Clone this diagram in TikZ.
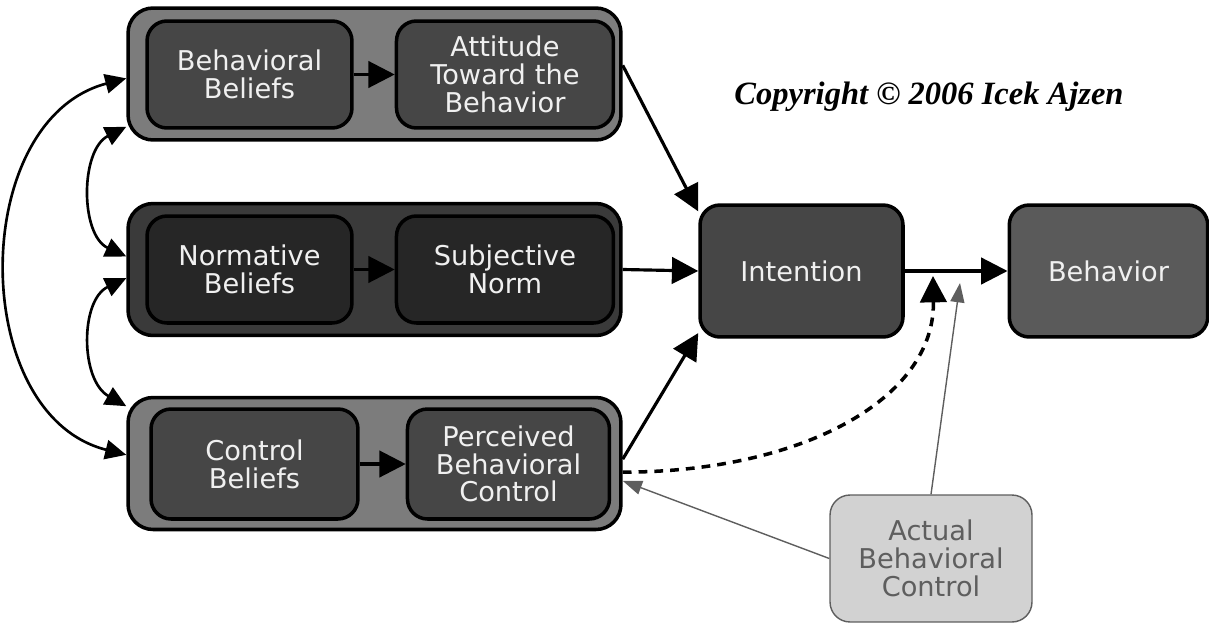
\documentclass[tikz,border=0pt]{standalone}
\usepackage{fontspec}
\setmainfont{DejaVu Sans}
\newfontfamily\copyfont{Liberation Serif}
\usetikzlibrary{shapes,arrows.meta,positioning}

\definecolor{framelight}{HTML}{7C7C7C}
\definecolor{framedark}{HTML}{3A3A3A}
\definecolor{blockmid}{HTML}{464646}
\definecolor{blockdark}{HTML}{262626}
\definecolor{blockbehav}{HTML}{5A5A5A}
\definecolor{actualfill}{HTML}{D2D2D2}
\definecolor{actualtext}{HTML}{5E5E5E}

\begin{document}
\begin{tikzpicture}[x=0.02cm, y=-0.02cm, node distance=0.82cm, auto]
    % Define block styles
    \tikzstyle{frame} = [rectangle, draw, line width=2pt, rounded corners=0.5cm, minimum width=9.86cm, minimum height=2.64cm]
    \tikzstyle{block} = [rectangle, draw, line width=2pt, fill=blockmid, text=white!94!black, inner sep=0pt, text centered, rounded corners=0.4cm, minimum height=2.14cm, font=\fontsize{15.5}{15.8}\selectfont]
    \tikzstyle{line} = [draw, line width=1.8pt, -{Triangle[length=15pt,width=15pt]}]
    \tikzstyle{curve} = [draw, line width=1.5pt, {Triangle[length=12pt,width=11pt]}-{Triangle[length=12pt,width=11pt]}]
    \tikzstyle{thinline} = [draw, actualtext, line width=0.8pt, -{Triangle[length=11pt,width=8pt]}]

    \useasboundingbox (0,0) rectangle (1209,625);

    % Nodes
    \node [frame, fill=framelight] (bgA) at (374.5,74) {};
    \node [frame, fill=framedark] (bgB) at (374.5,269.5) {};
    \node [frame, fill=framelight] (bgC) at (374.5,463.5) {};

    \node [block, text width=4.1cm] (BB) at (249.5,74.5) {Behavioral\\Beliefs};
    \node [block, text width=4.34cm, right=0.82cm of BB] (ATB) {Attitude\\Toward the\\Behavior};
    \node [block, fill=blockdark, text width=4.1cm] (NB) at (249.5,269.5) {Normative\\Beliefs};
    \node [block, fill=blockdark, text width=4.34cm, right=0.82cm of NB] (SN) {Subjective\\Norm};
    \node [block, text width=4.14cm, minimum height=2.2cm] (CB) at (254.5,464) {Control\\Beliefs};
    \node [block, text width=4.04cm, minimum height=2.2cm, right=0.92cm of CB] (PBC) {Perceived\\Behavioral\\Control};

    \node [block, text width=4.06cm, minimum height=2.64cm] (Int) at (801.5,271) {Intention};
    \node [block, fill=blockbehav, text width=3.97cm, minimum height=2.64cm] (Beh) at (1108.5,271) {Behavior};
    \node [block, draw=actualtext, line width=0.8pt, fill=actualfill, text=actualtext, text width=4.04cm, minimum height=2.54cm] (ABC) at (931,558.5) {Actual\\Behavioral\\Control};

    \node (copy) at (929,97) {\copyfont\fontsize{18.5}{20}\selectfont\bfseries\itshape Copyright \textcopyright{} 2006 Icek Ajzen};

    \coordinate (dashEnd) at (933,276);
    \coordinate (grayEnd) at (960,283);

    % Arrows
    \path [line] (BB) -- (ATB);
    \path [line] (NB) -- (SN);
    \path [line] (CB) -- (PBC);
    \path [line] (bgA.2) -- (Int.150);
    \path [line] (bgB.east) -- (Int.west);
    \path [line] (bgC.1.5) -- (Int.211);
    \path [line] (Int.east) -- (Beh.west);
    \path [line, line width=2pt, dash pattern=on 5pt off 4pt] (bgC.-2) .. controls (800,472) and (935,400) .. (dashEnd);
    \path [thinline] (ABC.north) -- (grayEnd);
    \path [thinline] (ABC.west) -- (bgC.-4);

    \path [curve] (bgA.181) .. controls (-32,120) and (-32,415) .. (bgC.178);
    \path [curve] (bgA.192) .. controls (80,150) and (80,235) .. (bgB.177);
    \path [curve] (bgB.182) .. controls (80,300) and (80,380) .. (bgC.167);
  \end{tikzpicture}
\end{document}
